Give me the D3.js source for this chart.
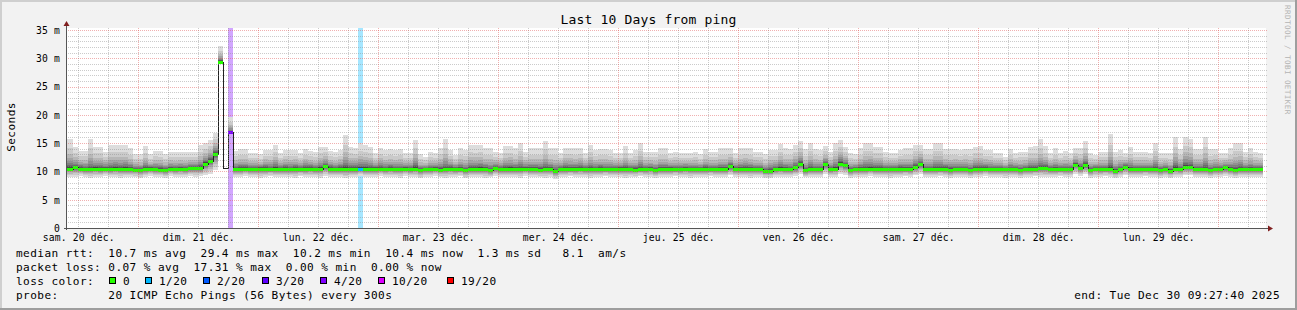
<!DOCTYPE html>
<html>
<head>
<meta charset="utf-8">
<script src="https://cdn.jsdelivr.net/npm/d3@7"></script>
<style>
body { margin: 0; background: #f2f2f2; }
svg { display: block; }
text { font-family: "DejaVu Sans Mono", monospace; fill: #000; }
</style>
</head>
<body>
<div id="chart"></div>
<script>
/* time range (local time) */
var startTime = new Date(2025, 11, 20, 9, 27, 40),
    endTime = new Date(2025, 11, 30, 9, 27, 40),
    // hourly steps, each value is for the hour ending at that time
    stepEnds = d3.timeHour.range(new Date(2025, 11, 20, 10), new Date(2025, 11, 30, 10));

/* median rtt per step (ms) */
var median = [
    10.5,10.5,10.7,10.5,10.4,10.4,10.5,10.4,10.5,10.4,
    10.5,10.4,10.5,10.4,10.3,10.2,10.4,10.5,10.4,10.3,
    10.2,10.5,10.4,10.5,10.4,10.6,10.6,10.6,11.4,11.9,
    13.1,29.4,10.6,16.9,
    10.4,10.5,10.5,10.4,10.4,10.5,10.5,10.4,10.5,10.4,
    10.5,10.4,10.5,10.4,10.5,10.5,10.4,10.5,10.9,10.5,
    10.4,10.5,10.5,10.4,10.5,10.5,10.5,10.4,10.5,10.5,
    10.4,10.5,
    10.4,10.4,10.5,10.4,10.5,10.2,10.4,10.4,10.5,10.3,
    10.4,10.5,10.4,10.4,10.2,10.4,10.4,10.5,10.4,10.2,
    10.6,10.4,10.4,10.5,10.4,10.4,10.5,10.4,10.4,10.3,
    10.4,10.4,10.0,10.4,10.5,10.4,10.4,10.5,10.4,10.4,
    10.4,10.5,10.4,
    10.4,10.4,10.5,10.4,10.4,10.3,10.4,10.4,10.5,10.2,
    10.4,10.4,10.5,10.4,10.4,10.5,10.4,10.4,10.4,10.5,
    10.4,10.4,10.4,10.4,10.9,10.4,10.4,10.5,10.4,10.4,
    10.4,10.1,10.1,10.4,10.5,10.4,10.4,10.7,11.3,10.2,
    10.4,10.4,10.4,11.3,10.4,10.5,11.4,11.1,10.2,10.4,
    10.4,10.4,10.5,10.4,10.4,10.4,10.4,10.4,10.5,10.4,
    10.4,10.8,11.3,10.4,10.4,10.4,10.4,10.5,10.3,10.4,
    10.4,10.4,10.2,10.4,10.4,10.5,10.4,
    10.4,10.4,10.4,10.4,10.4,10.2,10.4,10.4,10.4,10.6,
    10.6,10.4,10.4,10.4,10.4,10.4,11.2,10.6,11.1,10.2,
    10.5,10.4,10.4,10.4,10.1,10.4,10.8,10.4,10.4,10.4,
    10.4,10.4,10.4,10.2,10.4,10.1,10.5,10.4,10.8,10.8,
    10.4,10.4,10.4,10.2,10.4,10.4,10.7,10.4,10.2,10.4,
    10.4,10.4,10.4,10.4
];

/* highest ping per step (ms), null = no smoke */
var smokeTop = [
    15.7,15.7,14.4,13.6,13.6,15.7,14.4,14.4,13.5,14.7,
    14.7,14.7,14.7,14.1,13.0,13.0,14.5,13.0,13.6,13.6,
    13.0,13.4,13.4,13.4,13.4,13.5,13.5,14.7,15.1,15.6,
    16.8,32.2,null,19.6,
    13.6,13.9,13.9,13.2,13.2,13.0,13.8,13.8,14.7,13.2,
    13.8,13.8,13.8,13.2,14.0,13.6,13.4,14.4,14.4,13.6,
    13.4,13.8,16.4,14.4,14.1,15.0,14.7,14.4,13.2,14.1,
    13.8,13.9,
    13.7,13.9,13.2,13.2,15.6,13.0,12.6,13.4,13.2,14.2,
    15.7,13.8,12.9,14.1,13.7,14.7,14.6,14.6,14.1,14.1,
    13.5,13.2,14.5,14.5,14.1,15.0,13.5,14.1,14.1,14.1,
    15.4,14.1,14.1,13.2,14.2,14.2,14.1,14.1,13.2,14.7,
    13.8,13.9,13.9,
    13.8,13.3,13.2,14.5,13.2,13.8,15.0,13.5,13.4,13.5,
    14.1,14.1,13.2,13.5,13.2,13.3,13.2,13.5,13.0,13.9,
    13.5,13.5,14.1,14.1,14.1,13.3,14.1,14.1,14.1,13.5,
    13.4,13.0,13.8,13.8,14.8,14.1,13.9,14.7,15.4,13.9,
    15.0,13.9,13.8,14.5,13.5,15.0,15.6,14.4,13.2,13.0,
    14.1,15.0,15.0,14.4,14.4,13.4,13.2,13.2,13.8,14.1,
    14.1,14.7,14.7,13.9,13.9,15.0,15.0,13.9,13.9,13.9,
    13.8,13.9,13.9,14.4,14.5,13.8,13.8,
    13.3,13.3,12.6,14.0,13.2,13.5,13.5,14.4,14.5,15.7,
    14.5,13.2,14.1,13.2,13.6,13.2,14.1,14.1,15.4,13.2,
    12.9,13.5,13.5,16.6,13.5,13.8,13.2,14.3,13.5,13.5,
    13.5,13.2,15.1,13.2,13.2,13.2,16.0,13.9,16.0,15.7,
    13.9,13.9,16.0,13.9,13.9,13.2,13.2,14.1,15.0,15.1,
    13.5,14.2,13.5,13.3
];

/* lowest ping per step (ms) */
var smokeLow = [
    9.1,9.1,9.0,9.2,9.0,8.9,9.1,9.0,9.2,9.0,
    9.1,8.9,9.0,9.1,9.0,8.8,9.1,9.2,9.0,9.1,
    8.9,9.2,9.0,9.1,9.0,9.2,9.1,9.2,
    9.3,9.6,10.2,
    28.9,null,16.8,
    9.1,9.0,9.2,9.0,9.1,8.9,9.0,9.2,9.0,9.1,
    9.0,9.1,8.9,9.2,9.0,9.1,9.0,8.9,9.2,9.0,
    9.1,9.0,8.8,9.1,9.0,9.2,9.0,9.1,9.0,9.2,
    9.0,9.1,9.0,8.9,9.2,9.0,9.1,8.8,9.0,9.1,
    9.2,9.0,8.9,9.1,9.0,9.2,8.8,9.0,9.1,9.0,
    8.9,9.0,9.2,9.1,9.0,9.0,9.1,8.9,9.2,9.0,
    9.1,9.0,8.9,9.0,8.7,9.1,9.0,9.2,9.0,9.1,
    9.0,8.9,9.1,9.0,9.2,9.0,9.1,9.0,8.9,9.1,
    9.0,9.2,9.0,9.1,8.9,9.0,9.1,9.0,9.2,9.0,
    9.1,8.9,9.0,9.1,9.0,9.2,9.0,9.1,9.0,9.3,
    9.0,9.1,9.0,8.9,9.1,9.0,8.8,8.8,9.0,9.1,
    9.0,9.1,9.2,9.6,9.0,9.1,9.0,9.1,9.6,9.0,
    9.1,9.6,9.4,8.9,9.0,9.1,9.0,9.2,9.0,9.1,
    9.0,8.9,9.1,9.0,9.2,9.0,9.3,9.6,9.0,9.1,
    9.0,9.2,9.0,8.9,9.1,9.0,9.0,8.9,9.1,9.0,
    9.2,9.0,9.1,9.0,8.9,9.1,9.0,8.9,9.1,9.0,
    9.2,9.1,9.0,9.1,9.0,9.2,9.0,9.1,9.5,9.2,
    9.5,8.9,9.1,9.0,9.2,9.0,8.8,9.1,9.3,9.0,
    9.1,9.0,9.2,9.0,9.1,8.9,9.0,8.8,9.1,9.0,
    9.3,9.3,9.0,9.1,9.0,8.9,9.1,9.0,9.2,9.0,
    8.9,9.1,9.0,9.1,9.0,9.1
];

/* packet loss, only steps that had any (step index, % lost) */
var lossStep = [33, 59],
    lossPct = [17.31, 0.42];

/* loss color legend */
var lossLevels = [0, 1, 2, 3, 4, 10, 19],
    lossLabels = ["0", "1/20", "2/20", "3/20", "4/20", "10/20", "19/20"],
    lossColors = ["#26ff00", "#00b8ff", "#0059ff", "#5e00ff", "#7e00ff", "#dd00ff", "#ff0000"],
    pings = 20;

/* axis ticks */
var yMajor = d3.range(0, 36, 5),
    yMinor = d3.range(1, 36).filter(function (d) { return d % 5; }),
    dayLabels = d3.timeDay.range(new Date(2025, 11, 20), new Date(2025, 11, 30))
        .map(function (d) { return d3.timeHour.offset(d, 12); });

/* legend texts */
var legendRows = [
    "median rtt:  10.7 ms avg  29.4 ms max  10.2 ms min  10.4 ms now  1.3 ms sd   8.1  am/s",
    "packet loss: 0.07 % avg  17.31 % max  0.00 % min  0.00 % now",
    "loss color:",
    "probe:       20 ICMP Echo Pings (56 Bytes) every 300s"
];

/* graphical parameters */
var W = 1297, H = 310,
    plot = { left: 66, top: 28, width: 1200, height: 200 },
    gridMinor = "rgba(140,140,140,0.45)",
    gridMajor = "rgba(222,79,79,0.45)",
    axisCol = "#555",
    arrowCol = "#801f1f",
    legendFont = { size: "11.1px", spacing: "0.42px" };

var fr = d3.timeFormatLocale({
    dateTime: "%A %e %B %Y à %X", date: "%d/%m/%Y", time: "%H:%M:%S",
    periods: ["AM", "PM"],
    days: ["dimanche", "lundi", "mardi", "mercredi", "jeudi", "vendredi", "samedi"],
    shortDays: ["dim.", "lun.", "mar.", "mer.", "jeu.", "ven.", "sam."],
    months: ["janvier", "février", "mars", "avril", "mai", "juin", "juillet", "août", "septembre", "octobre", "novembre", "décembre"],
    shortMonths: ["janv.", "févr.", "mars", "avr.", "mai", "juin", "juil.", "août", "sept.", "oct.", "nov.", "déc."]
});

/* scales */
var x = d3.scaleTime()
    .domain([startTime, endTime])
    .range([65.6, 1265.6]),
    y = d3.scaleLinear()
    .domain([0, 35.35])
    .range([plot.top + plot.height, plot.top]);

/* containers */
var svg = d3.select("#chart")
    .append("svg")
    .attr("width", W)
    .attr("height", H);

svg.append("rect")
    .attr("width", W)
    .attr("height", H)
    .attr("fill", "#f2f2f2");
// 3d frame
svg.append("path").attr("fill", "#cfcfcf")
    .attr("d", "M0,0H" + W + "V2H2V" + H + "H0Z");
svg.append("path").attr("fill", "#9e9e9e")
    .attr("d", "M" + W + ",0V" + H + "H0V" + (H - 2) + "H" + (W - 2) + "V0Z");

svg.append("rect")
    .attr("x", plot.left)
    .attr("y", plot.top)
    .attr("width", plot.width)
    .attr("height", plot.height)
    .attr("fill", "#fff");

svg.append("clipPath")
    .attr("id", "plotclip")
    .append("rect")
    .attr("x", plot.left)
    .attr("y", plot.top)
    .attr("width", plot.width)
    .attr("height", plot.height);

var main = svg.append("g")
    .attr("clip-path", "url(#plotclip)")
    .attr("shape-rendering", "crispEdges");

/* steps */
var steps = stepEnds.map(function (t, i) {
    var li = lossStep.indexOf(i);
    return {
        x0: Math.round(x(d3.timeHour.offset(t, -1))),
        x1: Math.round(x(t)),
        med: median[i],
        top: smokeTop[i],
        low: smokeLow[i],
        loss: li < 0 ? 0 : lossPct[li]
    };
});

function lossColor(pct) {
    return lossColors[d3.bisectLeft(lossLevels, pct / 100 * pings)];
}

// loss bands
main.append("g")
    .attr("class", "loss")
    .selectAll("rect")
    .data(steps.filter(function (d) { return d.loss > 0; }))
    .join("rect")
    .attr("x", function (d) { return d.x0; })
    .attr("width", function (d) { return d.x1 - d.x0; })
    .attr("y", plot.top)
    .attr("height", plot.height)
    .attr("fill", function (d) { return lossColor(d.loss); })
    .attr("fill-opacity", 0.35);

// smoke: 10 layers from outer (light) to inner (dark)
var layerUp = [1, 0.7, 0.5, 0.36, 0.26, 0.18, 0.12, 0.08, 0.05, 0.03],
    layerDn = [1, 0.8, 0.62, 0.48, 0.36, 0.27, 0.19, 0.13, 0.08, 0.05],
    smokeSteps = steps.filter(function (d) { return d.top != null; }),
    smoke = main.append("g").attr("class", "smoke");

layerUp.forEach(function (fu, i) {
    var g = Math.round(190 / 10 * (10 - (i + 1))) + 50,
        fd = layerDn[i];
    smoke.append("g")
        .attr("fill", d3.rgb(g, g, g))
        .selectAll("rect")
        .data(smokeSteps)
        .join("rect")
        .attr("x", function (d) { return d.x0; })
        .attr("width", function (d) { return d.x1 - d.x0; })
        .attr("y", function (d) { return y(d.med + (d.top - d.med) * fu); })
        .attr("height", function (d) {
            return y(d.med - (d.med - d.low) * fd) - y(d.med + (d.top - d.med) * fu);
        });
});

// median step line
var last = steps[steps.length - 1],
    medPts = steps.map(function (d) { return [d.x0, Math.round(y(d.med)) + 0.5]; })
    .concat([[last.x1, Math.round(y(last.med)) + 0.5]]);

main.append("path")
    .attr("d", d3.line().curve(d3.curveStepAfter)(medPts))
    .attr("fill", "none")
    .attr("stroke", "#202020")
    .attr("stroke-width", 1);

// median colored by loss
main.append("g")
    .attr("class", "median")
    .selectAll("rect")
    .data(smokeSteps)
    .join("rect")
    .attr("x", function (d) { return d.x0; })
    .attr("width", function (d) { return d.x1 - d.x0; })
    .attr("y", function (d) { return Math.round(y(d.med)) - 1; })
    .attr("height", 3)
    .attr("fill", function (d) { return lossColor(d.loss); });

/* grids */
var grids = svg.append("g")
    .attr("class", "grids")
    .attr("shape-rendering", "crispEdges")
    .attr("stroke-dasharray", "1,1")
    .attr("stroke-width", 1);

grids.selectAll("line.hmin")
    .data(yMinor)
    .join("line")
    .attr("class", "hmin")
    .attr("x1", plot.left)
    .attr("x2", plot.left + plot.width + 2)
    .attr("y1", function (d) { return Math.round(y(d)) + 0.5; })
    .attr("y2", function (d) { return Math.round(y(d)) + 0.5; })
    .attr("stroke", gridMinor);

grids.selectAll("line.vmin")
    .data(d3.timeHour.every(6).range(startTime, endTime)
        .filter(function (d) { return d.getHours() !== 0; }))
    .join("line")
    .attr("class", "vmin")
    .attr("x1", function (d) { return Math.round(x(d)) + 0.5; })
    .attr("x2", function (d) { return Math.round(x(d)) + 0.5; })
    .attr("y1", plot.top)
    .attr("y2", plot.top + plot.height)
    .attr("stroke", gridMinor);

grids.selectAll("line.hmaj")
    .data(yMajor.slice(1))
    .join("line")
    .attr("class", "hmaj")
    .attr("x1", plot.left)
    .attr("x2", plot.left + plot.width + 2)
    .attr("y1", function (d) { return Math.round(y(d)) + 0.5; })
    .attr("y2", function (d) { return Math.round(y(d)) + 0.5; })
    .attr("stroke", gridMajor);

grids.selectAll("line.vmaj")
    .data(d3.timeDay.range(startTime, endTime))
    .join("line")
    .attr("class", "vmaj")
    .attr("x1", function (d) { return Math.round(x(d)) + 0.5; })
    .attr("x2", function (d) { return Math.round(x(d)) + 0.5; })
    .attr("y1", plot.top)
    .attr("y2", plot.top + plot.height)
    .attr("stroke", gridMajor);

/* axes */
var yAxis = d3.axisLeft(y)
    .tickValues(yMajor)
    .tickFormat(function (d) { return d ? d + " m" : "0"; })
    .tickSize(0)
    .tickPadding(6),
    xAxis = d3.axisBottom(x)
    .tickValues(dayLabels)
    .tickFormat(fr.format("%a %d %b"))
    .tickSize(0)
    .tickPadding(6);

svg.append("g")
    .attr("transform", "translate(" + plot.left + ",0)")
    .call(yAxis)
    .call(function (g) { g.select(".domain").remove(); })
    .selectAll("text")
    .attr("dy", "0.35em")
    .style("font-family", "DejaVu Sans Mono")
    .style("font-size", "9.7px")
    .style("letter-spacing", "0.17px");

svg.append("g")
    .attr("transform", "translate(0," + (plot.top + plot.height) + ")")
    .call(xAxis)
    .call(function (g) { g.select(".domain").remove(); })
    .selectAll("text")
    .style("font-family", "DejaVu Sans Mono")
    .style("font-size", "9.7px")
    .style("letter-spacing", "0.17px");

var axes = svg.append("g")
    .attr("shape-rendering", "crispEdges")
    .attr("stroke", axisCol);
axes.append("line")
    .attr("x1", plot.left + 0.5).attr("x2", plot.left + 0.5)
    .attr("y1", plot.top + plot.height + 2).attr("y2", plot.top - 3);
axes.append("line")
    .attr("x1", plot.left - 2).attr("x2", plot.left + plot.width + 2)
    .attr("y1", plot.top + plot.height + 0.5).attr("y2", plot.top + plot.height + 0.5);

// arrows
svg.append("path")
    .attr("fill", arrowCol)
    .attr("d", "M" + (plot.left - 2.5) + "," + (plot.top - 2) + "L" + (plot.left + 3.5) + "," + (plot.top - 2) +
        "L" + (plot.left + 0.5) + "," + (plot.top - 7) + "Z");
svg.append("path")
    .attr("fill", arrowCol)
    .attr("d", "M" + (plot.left + plot.width + 2) + "," + (plot.top + plot.height - 2.5) +
        "L" + (plot.left + plot.width + 2) + "," + (plot.top + plot.height + 3.5) +
        "L" + (plot.left + plot.width + 7) + "," + (plot.top + plot.height + 0.5) + "Z");

/* texts */
svg.append("text")
    .attr("x", W / 2)
    .attr("y", 24)
    .attr("text-anchor", "middle")
    .style("font-size", "13px")
    .style("letter-spacing", "0.17px")
    .text("Last 10 Days from ping");

svg.append("text")
    .attr("transform", "translate(14.5," + (plot.top + plot.height / 2 - 1) + ") rotate(-90)")
    .attr("text-anchor", "middle")
    .style("font-size", legendFont.size)
    .style("letter-spacing", legendFont.spacing)
    .text("Seconds");

svg.append("text")
    .attr("transform", "translate(1285,5) rotate(90)")
    .style("font-size", "7.6px")
    .style("letter-spacing", "0.42px")
    .style("fill", "#b4b4b4")
    .text("RRDTOOL / TOBI OETIKER");

/* legend */
var legend = svg.append("g")
    .style("font-size", legendFont.size)
    .style("letter-spacing", legendFont.spacing);

legend.selectAll("text.row")
    .data(legendRows)
    .join("text")
    .attr("class", "row")
    .attr("x", 16)
    .attr("y", function (d, i) { return 256.7 + i * 14; })
    .style("white-space", "pre")
    .text(function (d) { return d; });

var boxX = [109, 145, 203, 262, 320, 378, 447],
    lossItems = legend.selectAll("g.lossitem")
    .data(lossLabels)
    .join("g")
    .attr("class", "lossitem")
    .attr("transform", function (d, i) { return "translate(" + boxX[i] + ",0)"; });

lossItems.append("rect")
    .attr("x", 0.5)
    .attr("y", 277.5)
    .attr("width", 6)
    .attr("height", 6)
    .attr("fill", function (d, i) { return lossColors[i]; })
    .attr("stroke", "#000")
    .attr("shape-rendering", "crispEdges");

lossItems.append("text")
    .attr("x", 14)
    .attr("y", 284.7)
    .text(function (d) { return d; });

legend.append("text")
    .attr("x", 1280)
    .attr("y", 298.7)
    .attr("text-anchor", "end")
    .text("end: Tue Dec 30 09:27:40 2025");
</script>
</body>
</html>
